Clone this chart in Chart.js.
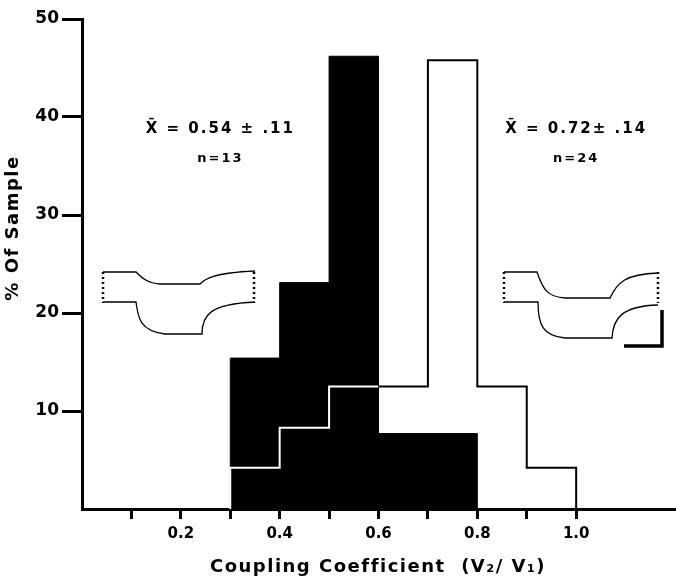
<!DOCTYPE html>
<html>
<head>
<meta charset="utf-8">
<script src="https://cdn.jsdelivr.net/npm/chart.js@4.4.0/dist/chart.umd.min.js"></script>
<style>
html, body { margin: 0; padding: 0; background: #fff; }
#wrap { width: 676px; height: 584px; }
</style>
</head>
<body>
<div id="wrap"><canvas id="histChart" width="676" height="584"></canvas></div>
<script>
// bin edges of the coupling coefficient histogram
const binEdges = [0.3, 0.4, 0.5, 0.6, 0.7, 0.8, 0.9, 1.0];
// % of sample, black bars (n=13)
const solidPct = [15.4, 23.1, 46.2, 7.7, 7.7];
// % of sample, open outline (n=24)
const openPct = [4.2, 8.3, 12.5, 12.5, 45.8, 12.5, 4.2];
const yTicks = [10, 20, 30, 40, 50];
const xTickLabels = [0.2, 0.4, 0.6, 0.8, 1.0];
const meanLabels = ['X\u0304 = 0.54 \u00b1 .11', 'X\u0304 = 0.72\u00b1 .14'];
const countLabels = ['n=13', 'n=24'];

const FONT = '"DejaVu Sans", "Liberation Sans", sans-serif';

// turn bin values into points for a 'before' stepped line
function stepPoints(values) {
    const pts = [{ x: binEdges[0], y: 0 }];
    values.forEach((v, i) => pts.push({ x: binEdges[i], y: v }));
    pts.push({ x: binEdges[values.length], y: 0 });
    return pts;
}

const solidPts = stepPoints(solidPct);
const openPts = stepPoints(openPct);

// outline is white where it runs over a black bar
function outlineColor(ctx) {
    const p = openPts[ctx.p0DataIndex];
    const bin = binEdges.findIndex((e, i) => i < binEdges.length - 1 && p.x >= e - 1e-9 && p.x < binEdges[i + 1] - 1e-9);
    const under = bin >= 0 && bin < solidPct.length && p.y < solidPct[bin];
    return under ? '#ffffff' : '#000000';
}

function isLabelled(v) {
    return xTickLabels.some(t => Math.abs(t - v) < 1e-6);
}

// hand-drawn titles, stats text and the voltage trace insets
const overlay = {
    id: 'overlay',
    afterDraw(chart) {
        const { ctx, scales: { x, y } } = chart;
        ctx.save();
        ctx.fillStyle = '#000';
        ctx.strokeStyle = '#000';
        ctx.textAlign = 'center';
        ctx.textBaseline = 'middle';

        ctx.letterSpacing = '1.5px';
        ctx.font = 'bold 18px ' + FONT;
        ctx.fillText('Coupling Coefficient  (V\u2082/ V\u2081)', 378, 567);

        ctx.save();
        ctx.translate(13, 228);
        ctx.rotate(-Math.PI / 2);
        ctx.fillText('% Of Sample', 0, 0);
        ctx.restore();

        // mean +- sd and n
        const cx = [x.getPixelForValue(0.28), x.getPixelForValue(1.0)];
        ctx.letterSpacing = '2px';
        ctx.font = 'bold 15px ' + FONT;
        meanLabels.forEach((t, i) => ctx.fillText(t, cx[i], y.getPixelForValue(38.8)));
        ctx.font = 'bold 13px ' + FONT;
        countLabels.forEach((t, i) => ctx.fillText(t, cx[i], y.getPixelForValue(35.8)));
        ctx.letterSpacing = '0px';

        // insets
        ctx.lineWidth = 1.3;
        ctx.beginPath();
        ctx.moveTo(103, 272); ctx.lineTo(136, 272);
        ctx.bezierCurveTo(143, 279, 148, 283, 160, 284);
        ctx.lineTo(200, 284);
        ctx.bezierCurveTo(205, 279, 212, 273, 255, 271);
        ctx.moveTo(103, 302); ctx.lineTo(136, 302);
        ctx.bezierCurveTo(138, 318, 140, 331, 165, 334);
        ctx.lineTo(202, 334);
        ctx.bezierCurveTo(202, 315, 210, 304, 255, 302);

        ctx.moveTo(504, 272); ctx.lineTo(537, 272);
        ctx.bezierCurveTo(543, 290, 548, 297, 565, 298);
        ctx.lineTo(610, 298);
        ctx.bezierCurveTo(617, 283, 625, 274, 658, 273);
        ctx.moveTo(504, 302); ctx.lineTo(538, 302);
        ctx.bezierCurveTo(538, 325, 543, 336, 565, 338);
        ctx.lineTo(612, 338);
        ctx.bezierCurveTo(613, 318, 622, 306, 658, 305);
        ctx.stroke();

        ctx.lineWidth = 2.5;
        ctx.setLineDash([2, 3]);
        ctx.beginPath();
        [103, 254, 504, 658].forEach(px => { ctx.moveTo(px, 272); ctx.lineTo(px, 303); });
        ctx.stroke();
        ctx.setLineDash([]);

        ctx.lineWidth = 3.5;
        ctx.beginPath();
        ctx.moveTo(662, 310); ctx.lineTo(662, 346); ctx.lineTo(624, 346);
        ctx.stroke();
        ctx.restore();
    }
};

new Chart(document.getElementById('histChart').getContext('2d'), {
    type: 'line',
    data: {
        datasets: [
            {
                label: 'n=24',
                data: openPts,
                stepped: 'before',
                fill: false,
                borderWidth: 2,
                borderColor: '#000',
                segment: { borderColor: outlineColor },
                pointRadius: 0
            },
            {
                label: 'n=13',
                data: solidPts,
                stepped: 'before',
                fill: 'origin',
                backgroundColor: '#000',
                borderColor: '#000',
                borderWidth: 1,
                pointRadius: 0
            }
        ]
    },
    options: {
        responsive: false,
        animation: false,
        layout: { padding: { top: 19, right: 1, left: 0, bottom: 0 } },
        plugins: {
            legend: { display: false },
            tooltip: { enabled: false }
        },
        scales: {
            x: {
                type: 'linear',
                min: 0,
                max: 1.2,
                afterFit: (scale) => {
                    scale.height = 75;
                    scale.paddingLeft = 0;
                    scale.paddingRight = 0;
                },
                border: { color: '#000', width: 3 },
                grid: {
                    drawOnChartArea: false,
                    tickLength: 10,
                    tickWidth: 3,
                    tickColor: (c) => {
                        const v = c.tick ? c.tick.value : 0;
                        return (v > 0.05 && v < 1.05) ? '#000' : 'rgba(0,0,0,0)';
                    }
                },
                afterBuildTicks: (scale) => {
                    const t = [];
                    for (let i = 0; i <= 12; i++) t.push({ value: i / 10 });
                    scale.ticks = t;
                },
                ticks: {
                    autoSkip: false,
                    maxRotation: 0,
                    padding: 6,
                    color: '#000',
                    font: { family: FONT, size: 15, weight: 'bold' },
                    callback: (v) => isLabelled(v) ? v.toFixed(1) : ''
                }
            },
            y: {
                min: 0,
                max: 50,
                afterFit: (scale) => { scale.width = 82; },
                border: { color: '#000', width: 3 },
                grid: {
                    drawOnChartArea: false,
                    tickLength: 20,
                    tickWidth: 3,
                    tickColor: (c) => (c.tick && yTicks.includes(c.tick.value)) ? '#000' : 'rgba(0,0,0,0)'
                },
                afterBuildTicks: (scale) => {
                    scale.ticks = [{ value: 0 }].concat(yTicks.map(v => ({ value: v })));
                },
                ticks: {
                    padding: 3,
                    color: '#000',
                    font: { family: FONT, size: 17, weight: 'bold' },
                    callback: (v) => yTicks.includes(v) ? String(v) : ''
                }
            }
        }
    },
    plugins: [overlay]
});
</script>
</body>
</html>
